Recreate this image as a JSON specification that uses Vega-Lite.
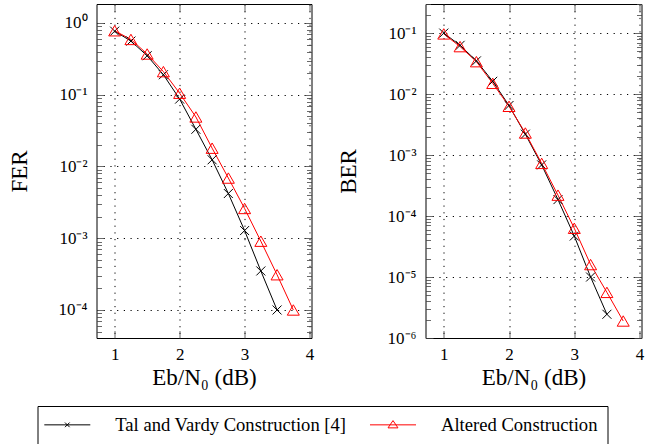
{
  "$schema": "https://vega.github.io/schema/vega-lite/v6.json",
  "padding": {"left": 7.5, "top": 3, "right": 5, "bottom": 0},
  "datasets": {
    "fer": [
      {"x": 1, "series": "Tal and Vardy Construction [4]", "v": 0.77},
      {"x": 1.25, "series": "Tal and Vardy Construction [4]", "v": 0.56},
      {"x": 1.5, "series": "Tal and Vardy Construction [4]", "v": 0.35},
      {"x": 1.75, "series": "Tal and Vardy Construction [4]", "v": 0.19},
      {"x": 2, "series": "Tal and Vardy Construction [4]", "v": 0.087},
      {"x": 2.25, "series": "Tal and Vardy Construction [4]", "v": 0.033},
      {"x": 2.5, "series": "Tal and Vardy Construction [4]", "v": 0.0124},
      {"x": 2.75, "series": "Tal and Vardy Construction [4]", "v": 0.0042},
      {"x": 3, "series": "Tal and Vardy Construction [4]", "v": 0.00128},
      {"x": 3.25, "series": "Tal and Vardy Construction [4]", "v": 0.00035},
      {"x": 3.5, "series": "Tal and Vardy Construction [4]", "v": 0.0001},
      {"x": 1, "series": "Altered Construction", "v": 0.78},
      {"x": 1.25, "series": "Altered Construction", "v": 0.59},
      {"x": 1.5, "series": "Altered Construction", "v": 0.37},
      {"x": 1.75, "series": "Altered Construction", "v": 0.21},
      {"x": 2, "series": "Altered Construction", "v": 0.105},
      {"x": 2.25, "series": "Altered Construction", "v": 0.049},
      {"x": 2.5, "series": "Altered Construction", "v": 0.018},
      {"x": 2.75, "series": "Altered Construction", "v": 0.0069},
      {"x": 3, "series": "Altered Construction", "v": 0.0026},
      {"x": 3.25, "series": "Altered Construction", "v": 0.00091},
      {"x": 3.5, "series": "Altered Construction", "v": 0.00031},
      {"x": 3.75, "series": "Altered Construction", "v": 0.0001}
    ],
    "ber": [
      {"x": 1, "series": "Tal and Vardy Construction [4]", "v": 0.1},
      {"x": 1.25, "series": "Tal and Vardy Construction [4]", "v": 0.063},
      {"x": 1.5, "series": "Tal and Vardy Construction [4]", "v": 0.035},
      {"x": 1.75, "series": "Tal and Vardy Construction [4]", "v": 0.0162},
      {"x": 2, "series": "Tal and Vardy Construction [4]", "v": 0.0065},
      {"x": 2.25, "series": "Tal and Vardy Construction [4]", "v": 0.0022},
      {"x": 2.5, "series": "Tal and Vardy Construction [4]", "v": 0.00069},
      {"x": 2.75, "series": "Tal and Vardy Construction [4]", "v": 0.000186},
      {"x": 3, "series": "Tal and Vardy Construction [4]", "v": 0.000047},
      {"x": 3.25, "series": "Tal and Vardy Construction [4]", "v": 0.00001},
      {"x": 3.5, "series": "Tal and Vardy Construction [4]", "v": 0.00000245},
      {"x": 1, "series": "Altered Construction", "v": 0.097},
      {"x": 1.25, "series": "Altered Construction", "v": 0.06},
      {"x": 1.5, "series": "Altered Construction", "v": 0.034},
      {"x": 1.75, "series": "Altered Construction", "v": 0.015},
      {"x": 2, "series": "Altered Construction", "v": 0.0063},
      {"x": 2.25, "series": "Altered Construction", "v": 0.0023},
      {"x": 2.5, "series": "Altered Construction", "v": 0.00073},
      {"x": 2.75, "series": "Altered Construction", "v": 0.00022},
      {"x": 3, "series": "Altered Construction", "v": 0.000063},
      {"x": 3.25, "series": "Altered Construction", "v": 0.000016},
      {"x": 3.5, "series": "Altered Construction", "v": 0.0000056},
      {"x": 3.75, "series": "Altered Construction", "v": 0.0000019}
    ]
  },
  "hconcat": [
    {
      "data": {"name": "fer"},
      "width": 215,
      "height": 334,
      "layer": [
        {
          "mark": {"type": "line", "strokeWidth": 1},
          "encoding": {
            "x": {"field": "x", "type": "quantitative", "scale": {"domain": [0.72, 4.03], "nice": false, "zero": false},
              "axis": {"orient": "bottom", "values": [1, 2, 3, 4], "grid": true, "tickSize": -7.5, "labelPadding": 16, "title": "Eb/N₀ (dB)", "titlePadding": 4}},
            "y": {"field": "v", "type": "quantitative", "scale": {"type": "log", "domain": [0.0000407, 1.84], "nice": false},
              "axis": {"orient": "left", "title": "FER", "titlePadding": 27,
                "values": [0.0001, 0.001, 0.01, 0.1, 1],
                "labelExpr": "'10' + (round(log(datum.value)/LN10) == 0 ? '⁰' : '⁻' + ['','¹','²','³','⁴','⁵','⁶'][-round(log(datum.value)/LN10)])",
                "grid": true, "tickSize": -7.5, "labelPadding": 17}},
            "color": {"field": "series", "type": "nominal",
              "scale": {"domain": ["Tal and Vardy Construction [4]", "Altered Construction"], "range": ["black", "red"]},
              "legend": {"title": null, "orient": "none", "legendX": -59, "legendY": 402, "direction": "horizontal",
                "strokeColor": "black", "padding": 9.5,
                "symbolSize": 196, "symbolStrokeWidth": 1, "symbolOffset": 11,
                "labelFontSize": 18.6, "labelOffset": 38.7, "labelLimit": 400, "columnPadding": 20.7,
                "encode": {"symbols": {"update": {"fill": {"value": "transparent"},
                  "shape": {"signal": "datum.value === 'Altered Construction' ? 'M-3.286,0L3.286,0M0,-0.61L0.71,0.43L-0.71,0.43Z' : 'M-3.286,0L3.286,0M-0.33,-0.33L0.33,0.33M-0.33,0.33L0.33,-0.33'"}}}}}}
          }
        },
        {
          "transform": [{"filter": "datum.series === 'Tal and Vardy Construction [4]'"}],
          "mark": {"type": "point", "shape": "M-1,-1L1,1M-1,1L1,-1", "size": 81, "strokeWidth": 1, "color": "black", "opacity": 1},
          "encoding": {
            "x": {"field": "x", "type": "quantitative", "axis": null},
            "y": {"field": "v", "type": "quantitative", "axis": null}
          }
        },
        {
          "transform": [{"filter": "datum.series === 'Altered Construction'"}],
          "mark": {"type": "point", "shape": "triangle-up", "size": 144, "strokeWidth": 1, "color": "red", "filled": false, "opacity": 1},
          "encoding": {
            "x": {"field": "x", "type": "quantitative", "axis": null},
            "y": {"field": "v", "type": "quantitative", "axis": null}
          }
        },
        {
          "mark": {"type": "point", "opacity": 0},
          "encoding": {
            "x": {"field": "x", "type": "quantitative", "axis": {"orient": "top", "values": [1, 2, 3, 4], "labels": false, "grid": false, "tickSize": -7.5, "title": null, "minExtent": 0, "maxExtent": 0}},
            "y": {"field": "v", "type": "quantitative", "axis": {"orient": "right", "labels": false, "grid": false, "title": null, "minExtent": 0, "maxExtent": 0,
              "values": [0.0001, 0.001, 0.01, 0.1, 1], "tickSize": -7.5}}
          }
        },
        {
          "mark": {"type": "point", "opacity": 0},
          "encoding": {
            "x": {"field": "x", "type": "quantitative", "axis": null},
            "y": {"field": "v", "type": "quantitative", "axis": {"orient": "left", "labels": false, "grid": false, "title": null, "minExtent": 0, "maxExtent": 0,
              "values": [0.00005,0.00006,0.00007,0.00008,0.00009,0.0002,0.0003,0.0004,0.0005,0.0006,0.0007,0.0008,0.0009,0.002,0.003,0.004,0.005,0.006,0.007,0.008,0.009,0.02,0.03,0.04,0.05,0.06,0.07,0.08,0.09,0.2,0.3,0.4,0.5,0.6,0.7,0.8,0.9], "tickSize": -5}}
          }
        },
        {
          "mark": {"type": "point", "opacity": 0},
          "encoding": {
            "x": {"field": "x", "type": "quantitative", "axis": null},
            "y": {"field": "v", "type": "quantitative", "axis": {"orient": "right", "labels": false, "grid": false, "title": null, "minExtent": 0, "maxExtent": 0,
              "values": [0.00005,0.00006,0.00007,0.00008,0.00009,0.0002,0.0003,0.0004,0.0005,0.0006,0.0007,0.0008,0.0009,0.002,0.003,0.004,0.005,0.006,0.007,0.008,0.009,0.02,0.03,0.04,0.05,0.06,0.07,0.08,0.09,0.2,0.3,0.4,0.5,0.6,0.7,0.8,0.9], "tickSize": -5}}
          }
        }
      ],
      "resolve": {"axis": {"x": "independent", "y": "independent"}}
    },
    {
      "data": {"name": "ber"},
      "width": 216,
      "height": 334,
      "layer": [
        {
          "mark": {"type": "line", "strokeWidth": 1},
          "encoding": {
            "x": {"field": "x", "type": "quantitative", "scale": {"domain": [0.72, 4.03], "nice": false, "zero": false},
              "axis": {"orient": "bottom", "values": [1, 2, 3, 4], "grid": true, "tickSize": -7.5, "labelPadding": 16, "title": "Eb/N₀ (dB)", "titlePadding": 4}},
            "y": {"field": "v", "type": "quantitative", "scale": {"type": "log", "domain": [0.000001, 0.3], "nice": false},
              "axis": {"orient": "left", "title": "BER", "titlePadding": 27,
                "values": [0.000001, 0.00001, 0.0001, 0.001, 0.01, 0.1],
                "labelExpr": "'10' + (round(log(datum.value)/LN10) == 0 ? '⁰' : '⁻' + ['','¹','²','³','⁴','⁵','⁶'][-round(log(datum.value)/LN10)])",
                "grid": true, "tickSize": -7.5, "labelPadding": 17}},
            "color": {"field": "series", "type": "nominal"}
          }
        },
        {
          "transform": [{"filter": "datum.series === 'Tal and Vardy Construction [4]'"}],
          "mark": {"type": "point", "shape": "M-1,-1L1,1M-1,1L1,-1", "size": 81, "strokeWidth": 1, "color": "black", "opacity": 1},
          "encoding": {
            "x": {"field": "x", "type": "quantitative", "axis": null},
            "y": {"field": "v", "type": "quantitative", "axis": null}
          }
        },
        {
          "transform": [{"filter": "datum.series === 'Altered Construction'"}],
          "mark": {"type": "point", "shape": "triangle-up", "size": 144, "strokeWidth": 1, "color": "red", "filled": false, "opacity": 1},
          "encoding": {
            "x": {"field": "x", "type": "quantitative", "axis": null},
            "y": {"field": "v", "type": "quantitative", "axis": null}
          }
        },
        {
          "mark": {"type": "point", "opacity": 0},
          "encoding": {
            "x": {"field": "x", "type": "quantitative", "axis": {"orient": "top", "values": [1, 2, 3, 4], "labels": false, "grid": false, "tickSize": -7.5, "title": null, "minExtent": 0, "maxExtent": 0}},
            "y": {"field": "v", "type": "quantitative", "axis": {"orient": "right", "labels": false, "grid": false, "title": null, "minExtent": 0, "maxExtent": 0,
              "values": [0.000001, 0.00001, 0.0001, 0.001, 0.01, 0.1], "tickSize": -7.5}}
          }
        },
        {
          "mark": {"type": "point", "opacity": 0},
          "encoding": {
            "x": {"field": "x", "type": "quantitative", "axis": null},
            "y": {"field": "v", "type": "quantitative", "axis": {"orient": "left", "labels": false, "grid": false, "title": null, "minExtent": 0, "maxExtent": 0,
              "values": [0.000002,0.000003,0.000004,0.000005,0.000006,0.000007,0.000008,0.000009,0.00002,0.00003,0.00004,0.00005,0.00006,0.00007,0.00008,0.00009,0.0002,0.0003,0.0004,0.0005,0.0006,0.0007,0.0008,0.0009,0.002,0.003,0.004,0.005,0.006,0.007,0.008,0.009,0.02,0.03,0.04,0.05,0.06,0.07,0.08,0.09,0.2,0.3], "tickSize": -5}}
          }
        },
        {
          "mark": {"type": "point", "opacity": 0},
          "encoding": {
            "x": {"field": "x", "type": "quantitative", "axis": null},
            "y": {"field": "v", "type": "quantitative", "axis": {"orient": "right", "labels": false, "grid": false, "title": null, "minExtent": 0, "maxExtent": 0,
              "values": [0.000002,0.000003,0.000004,0.000005,0.000006,0.000007,0.000008,0.000009,0.00002,0.00003,0.00004,0.00005,0.00006,0.00007,0.00008,0.00009,0.0002,0.0003,0.0004,0.0005,0.0006,0.0007,0.0008,0.0009,0.002,0.003,0.004,0.005,0.006,0.007,0.008,0.009,0.02,0.03,0.04,0.05,0.06,0.07,0.08,0.09,0.2,0.3], "tickSize": -5}}
          }
        }
      ],
      "resolve": {"axis": {"x": "independent", "y": "independent"}}
    }
  ],
  "spacing": 22,
  "config": {
    "font": "Liberation Serif",
    "view": {"stroke": "black", "strokeWidth": 1},
    "axis": {
      "domain": false,
      "labelFont": "Liberation Serif", "labelFontSize": 17, "labelColor": "black",
      "labelOverlap": false, "labelFlush": false,
      "titleFont": "Liberation Serif", "titleFontSize": 23, "titleFontWeight": "normal", "titleColor": "black",
      "tickColor": "#444", "tickWidth": 0.8,
      "gridColor": "black", "gridDash": [1.2, 5.5], "gridWidth": 1
    },
    "legend": {"labelFont": "Liberation Serif", "labelColor": "black"}
  }
}
